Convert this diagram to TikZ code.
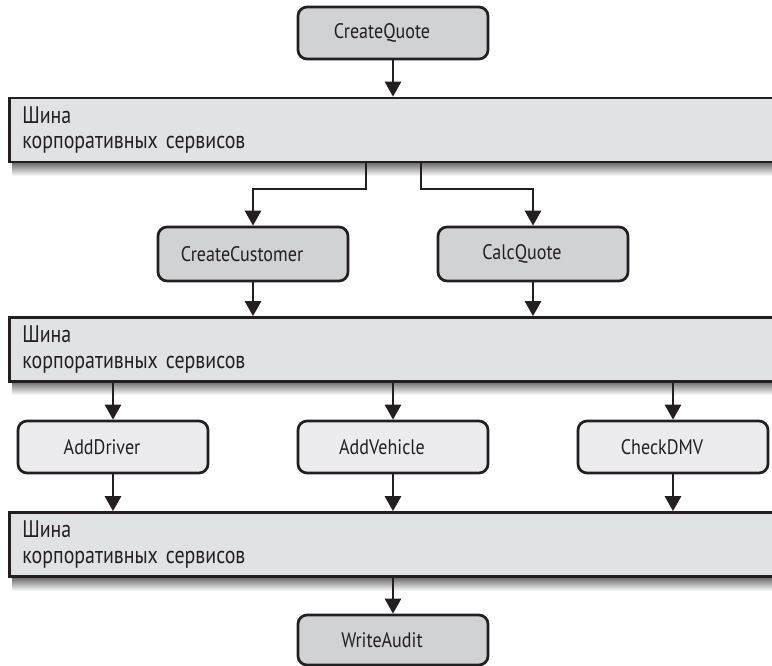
\documentclass[tikz,border=0pt]{standalone}
\usepackage{fontspec}
\setmainfont{PT Sans}[FakeStretch=0.86]
\newfontfamily\busfont{PT Sans}[FakeStretch=0.83]
\usetikzlibrary{arrows.meta,calc}
\definecolor{ink}{HTML}{231F20}
\definecolor{darkfill}{HTML}{D1D2D4}
\definecolor{lightfill}{HTML}{ECECEE}
\definecolor{busfill}{HTML}{E1E2E4}
\newcommand{\lbl}[1]{#1\hspace*{22pt}}
\newcommand{\bussetup}{\busfont\fontsize{24}{25.5}\selectfont\spaceskip=5pt plus 1pt minus 1pt\relax}
\tikzset{
  box/.style={draw=ink, line width=2.7pt, rounded corners=9pt, minimum width=190pt,
    minimum height=52pt, inner sep=0pt, font=\fontsize{21}{24}\selectfont, text=ink},
  darkbox/.style={box, fill=darkfill},
  lightbox/.style={box, fill=lightfill},
  bus/.style={draw=ink, line width=2.7pt, fill=busfill, anchor=west, minimum height=64pt,
    text width=770pt, inner xsep=13pt, inner ysep=0pt, align=left,
    font=\bussetup, text=ink},
  arr/.style={draw=ink, line width=2.7pt, -{Triangle[width=16pt,length=15pt]}},
}
\begin{document}
\begin{tikzpicture}[x=1pt,y=-1pt]
\useasboundingbox (0,0) rectangle (772,666);
% shadows under the buses
\foreach \yb in {162,381,577}{
  \shade[top color=black!60, bottom color=white] (12,\yb) rectangle (800,\yb+14);
}
\node[darkbox] (cq) at (393,33) {\lbl{CreateQuote}};
\node[bus] (b1) at (8,130) {Шина\\корпоративных сервисов};
\node[darkbox, minimum height=54pt] (cc) at (253,254) {\lbl{CreateCustomer}};
\node[darkbox, minimum height=54pt] (calc) at (533,254) {\lbl{CalcQuote}};
\node[bus] (b2) at (8,349.5) {Шина\\корпоративных сервисов};
\node[lightbox] (ad) at (113,447) {\lbl{AddDriver}};
\node[lightbox] (av) at (393,447) {\lbl{AddVehicle}};
\node[lightbox] (dmv) at (673,447) {\lbl{CheckDMV}};
\node[bus] (b3) at (8,544.5) {Шина\\корпоративных сервисов};
\node[darkbox, minimum height=50pt] (wa) at (393,640) {\lbl{WriteAudit}};
\coordinate (j1) at (366,189);
\coordinate (j2) at (421,189);
% connectors
\draw[arr] (cq.south) -- (cq.south |- b1.north);
\draw[arr] (j1 |- b1.south) -- (j1) -| (cc.north);
\draw[arr] (j2 |- b1.south) -- (j2) -| (calc.north);
\draw[arr] (cc.south) -- (cc.south |- b2.north);
\draw[arr] (calc.south) -- (calc.south |- b2.north);
\draw[arr] (ad.north |- b2.south) -- (ad.north);
\draw[arr] (av.north |- b2.south) -- (av.north);
\draw[arr] (dmv.north |- b2.south) -- (dmv.north);
\draw[arr] (ad.south) -- (ad.south |- b3.north);
\draw[arr] (av.south) -- (av.south |- b3.north);
\draw[arr] (dmv.south) -- (dmv.south |- b3.north);
\draw[arr] (wa.north |- b3.south) -- (wa.north);
\end{tikzpicture}
\end{document}
